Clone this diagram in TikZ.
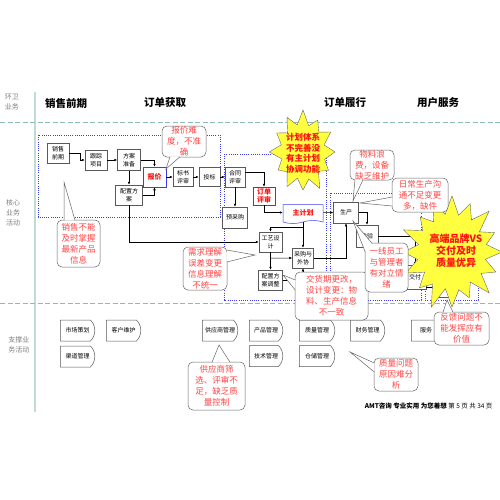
\documentclass[tikz,border=0pt]{standalone}
\usepackage{fontspec}
\newfontfamily\cjk{Noto Sans CJK SC}
\usetikzlibrary{shapes.misc,shapes.symbols,arrows.meta}

\definecolor{lanegray}{HTML}{7F7F7F}
\definecolor{laneteal}{HTML}{8CBDB5}
\definecolor{stageblue}{HTML}{3C3CF5}
\definecolor{issuered}{HTML}{FF4545}
\definecolor{keyred}{HTML}{FF1010}
\definecolor{burstyellow}{HTML}{FFFF40}

\tikzset{
  proc/.style={draw=black!65, fill=white, line width=0.5pt, align=center, inner sep=0pt,
    font=\cjk\fontsize{6}{7.5}\selectfont, minimum width=22pt, minimum height=20pt},
  keyproc/.style={proc, draw=stageblue, text=keyred, font=\cjk\bfseries\fontsize{7}{8.5}\selectfont},
  supbox/.style={rounded rectangle, rounded rectangle left arc=none,
    rounded rectangle arc length=90, draw=black!65, fill=white, line width=0.5pt,
    font=\cjk\fontsize{6}{7}\selectfont, minimum width=41pt, minimum height=21pt},
  call/.style={draw=black!60, fill=white, line width=0.5pt, rounded corners=5pt,
    align=center, inner sep=0pt, text=issuered, font=\cjk\fontsize{8.5}{11}\selectfont},
  callline/.style={draw=black!60, line width=0.5pt},
  burst/.style={draw=black!60, fill=burstyellow, line width=0.4pt},
  burstnote/.style={align=center, text=keyred, font=\cjk\bfseries\fontsize{8.5}{10.5}\selectfont},
  arr/.style={-{Latex[length=3pt,width=2.6pt]}, line width=0.5pt},
  lane/.style={dash pattern=on 5pt off 2.5pt, draw=laneteal, line width=0.8pt},
  stage/.style={dash pattern=on 0.9pt off 1.3pt, draw=stageblue, line width=0.7pt},
  head/.style={font=\cjk\bfseries\fontsize{10.5}{12}\selectfont},
  side/.style={align=center, text=lanegray, font=\cjk\fontsize{7}{10}\selectfont}
}
% pointer of a callout: base point, tip, base point
\newcommand{\calltail}[3]{%
  \fill[white] #1 -- #2 -- #3 -- cycle;
  \draw[callline] #1 -- #2 -- #3;}

\begin{document}
\begin{tikzpicture}[x=1pt, y=-1pt]
\useasboundingbox[fill=white] (0,0) rectangle (500,500);
\clip (0,0) rectangle (500,500);

% lanes and headings
\draw[draw=laneteal!55, line width=2pt] (35,92) -- (35,412);
\draw[lane] (0,122) -- (500,122);
\draw[lane] (0,303) -- (500,303);
\node[side] (sgtop) at (12,102) {环卫\\业务};
\node[side] (sgcore) at (13,213) {核心\\业务\\活动};
\node[side] (sgsup) at (19,345) {支撑业\\务活动};
\node[head] (hxq) at (66,103) {销售前期};
\node[head] (hdd) at (165,103) {订单获取};
\node[head] (hlx) at (345,103) {订单履行};
\node[head] (hfw) at (438,103) {用户服务};

% stages
\draw[stage] (38,135) rectangle (220,217);
\draw[stage] (224,154) rectangle (326,300);
\draw[stage] (330,193) rectangle (421,300);
\draw[stage] (425,232) rectangle (478,300);

% core process
\node[proc] (xq) at (58,153) {销售\\前期};
\node[proc] (gz) at (96,160) {跟踪\\项目};
\node[proc, minimum width=23pt, minimum height=21pt] (fa) at (129,160) {方案\\准备};
\node[keyproc, minimum width=23pt] (bj) at (154.5,177) {报价};
\node[proc, minimum width=20pt, minimum height=19pt] (bs) at (183,177) {标书\\评审};
\node[proc, minimum width=21pt, minimum height=19pt] (tb) at (209.5,177) {投标};
\node[proc, minimum width=20pt] (ht) at (235,177) {合同\\评审};
\node[proc, minimum width=27pt] (pz) at (129,195) {配置方\\案};
\node[proc, minimum width=25pt, minimum height=21pt] (yc) at (235,217.5) {预采购};
\node[keyproc, minimum height=18pt] (dd) at (264,196) {订单\\评审};
\node[keyproc, tape, tape bend top=none, tape bend height=3pt,
  minimum width=40pt, minimum height=19pt] (zj) at (303,212.5) {主计划};
\node[proc, minimum width=25pt, minimum height=21pt] (sc) at (346,212.5) {生产};
\node[proc, minimum width=23pt] (gy) at (270.5,242) {工艺设\\计};
\node[proc, minimum width=21pt] (cg) at (303,258) {采购与\\外协};
\node[proc, minimum width=24pt] (pt) at (270.5,280) {配置方\\案调整};
\node[proc, minimum height=22pt] (jy) at (367,236) {检验};
\node[proc, minimum width=22pt, minimum height=24pt] (jf) at (415,277) {交付};
\node[proc, minimum width=18pt] (fw) at (444,287) {服务};

\draw[arr] (xq.east) -- ++(11,0) |- (gz.west);
\draw[arr] (gz) -- (fa);
\draw[arr] (fa.east) -| (bj.north);
\draw[arr] (fa) -- (pz);
\draw[arr] (pz.east) -| (bj.south);
\draw[arr] (bj) -- (bs);
\draw[arr] (bs) -- (tb);
\draw[arr] (tb) -- (ht);
\draw[arr] (ht) -- (yc);
\draw[arr] ([yshift=5pt]ht.east) -| (dd.north);
\draw[arr] (dd.south) |- (zj.west);
\draw[arr] (zj) -- (sc);
\draw[arr] (zj) -- (cg);
\draw[arr] (zj.south) ++(0,6) -| (gy.north);
\draw[arr] (pz.south) |- (gy.west);
\draw[arr] (gy) -- (pt);
\draw[arr] (gy.south) ++(0,6) -- (cg.west);
\draw[arr] (cg.east) -| (sc.south);
\draw[arr] (pt.east) -| (cg.south);
\draw[arr] (sc.east) -| (jy.north);
\draw[arr] (jy.east) -| (jf.north);
\draw[arr] (jf.east |- fw.west) -- (fw.west);

% support activities
\node[supbox] (sch) at (77.5,330.5) {市场策划};
\node[supbox] (khwh) at (123.5,330.5) {客户维护};
\node[supbox] (qdgl) at (77.5,356.5) {渠道管理};
\node[supbox, minimum width=42pt] (gysgl) at (220,330.5) {供应商管理};
\node[supbox, minimum width=40pt] (cpgl) at (266,330.5) {产品管理};
\node[supbox, minimum width=42pt] (zlgl) at (317,330.5) {质量管理};
\node[supbox] (cwgl) at (367.5,330.5) {财务管理};
\node[supbox, minimum width=26pt] (fwgl) at (426,330.5) {服务};
\node[supbox, minimum width=40pt] (jsgl) at (266,356) {技术管理};
\node[supbox, minimum width=42pt] (ccgl) at (317,356) {仓储管理};

% bursts
\begin{scope}[shift={(303,152)}, x=32pt, y=-40pt]
  \draw[burst] (0:1) \foreach \a/\r in {15/.7, 30/.92, 45/.68, 60/1.05, 75/.7, 90/.95,
    105/.68, 120/1, 135/.7, 150/.9, 165/.68, 180/1.05, 195/.7, 210/.95, 225/.68, 240/1,
    255/.7, 270/1.05, 285/.68, 300/.92, 315/.7, 330/1, 345/.68} {-- (\a:\r)} -- cycle;
\end{scope}
\node[burstnote] (jhnote) at (303,153) {计划体系\\不完善没\\有主计划\\协调功能};

\begin{scope}[shift={(452,252)}, x=50pt, y=-55pt]
  \draw[burst] (0:1) \foreach \a/\r in {11.25/.68, 22.5/.95, 33.75/.7, 45/1.05, 56.25/.66,
    67.5/.9, 78.75/.7, 90/1, 101.25/.68, 112.5/1.08, 123.75/.7, 135/.92, 146.25/.66,
    157.5/1, 168.75/.7, 180/.97, 191.25/.68, 202.5/1.05, 213.75/.7, 225/.9, 236.25/.66,
    247.5/1, 258.75/.7, 270/1.02, 281.25/.68, 292.5/.95, 303.75/.7, 315/1.05, 326.25/.66,
    337.5/.92, 348.75/.7} {-- (\a:\r)} -- cycle;
\end{scope}
\node[burstnote, font=\cjk\bfseries\fontsize{10}{12}\selectfont] (ppnote) at (456,251)
  {高端品牌VS\\交付及时\\质量优异};

% callouts
\node[call, minimum width=44pt, minimum height=31pt] (cbj) at (184,141.5) {报价难\\度，不准\\确};
\coordinate (cbjtip) at (166,169);
\calltail{([xshift=-14pt,yshift=0.5pt]cbj.south)}{(cbjtip)}{([xshift=-4pt,yshift=0.5pt]cbj.south)}

\node[call, minimum width=43pt, minimum height=47pt] (cxs) at (78.5,243.5) {销售不能\\及时掌握\\最新产品\\信息};
\coordinate (cxstip) at (64,182);
\calltail{([xshift=-14.5pt,yshift=-0.5pt]cxs.north)}{(cxstip)}{([xshift=-3.5pt,yshift=-0.5pt]cxs.north)}

\node[call, minimum width=44pt, minimum height=43pt] (cxq) at (205,268.5) {需求理解\\误差变更\\信息理解\\不统一};
\coordinate (cxqtip) at (255,255);
\calltail{([xshift=-0.5pt,yshift=18.5pt]cxq.east)}{(cxqtip)}{([xshift=-0.5pt,yshift=6.5pt]cxq.east)}

\node[call, minimum width=73pt, minimum height=48pt] (cjh) at (331.5,296) {交货期更改，\\设计变更：物\\料、生产信息\\不一致};
\coordinate (cjhtip) at (283,275);
\calltail{([xshift=0.5pt,yshift=16pt]cjh.west)}{(cjhtip)}{([xshift=0.5pt,yshift=6pt]cjh.west)}

\node[call, minimum width=44pt, minimum height=30pt] (cwl) at (372,165) {物料浪\\费，设备\\缺乏维护};
\coordinate (cwltip) at (353,201);
\calltail{([xshift=-17pt,yshift=0.5pt]cwl.south)}{(cwltip)}{([xshift=-9pt,yshift=0.5pt]cwl.south)}

\node[call, minimum width=56pt, minimum height=34pt] (crc) at (420,195) {日常生产沟\\通不足变更\\多，缺件};
\coordinate (crctip) at (360,203);
\calltail{([xshift=0.5pt,yshift=-2pt]crc.west)}{(crctip)}{([xshift=0.5pt,yshift=-11pt]crc.west)}

\node[call, minimum width=43pt, minimum height=49pt] (cyx) at (386.5,267.5) {一线员工\\与管理者\\有对立情\\绪};
\coordinate (cyxtip) at (353,221);
\calltail{([xshift=-14.5pt,yshift=-0.5pt]cyx.north)}{(cyxtip)}{([xshift=0.5pt,yshift=15.5pt]cyx.west)}

\node[call, minimum width=55pt, minimum height=33pt] (cfk) at (461.5,328.5) {反馈问题不\\能发挥应有\\价值};
\coordinate (cfktip) at (447,300);
\calltail{([xshift=-18.5pt,yshift=-0.5pt]cfk.north)}{(cfktip)}{([xshift=-8.5pt,yshift=-0.5pt]cfk.north)}

\node[call, minimum width=57pt, minimum height=48pt] (cgy) at (216.5,386) {供应商筛\\选、评审不\\足，缺乏质\\量控制};
\coordinate (cgytip) at (219,345);
\calltail{([xshift=-4.5pt,yshift=-0.5pt]cgy.north)}{(cgytip)}{([xshift=13.5pt,yshift=-0.5pt]cgy.north)}

\node[call, minimum width=44pt, minimum height=33pt] (czl) at (396,374.5) {质量问题\\原因难分\\析};
\coordinate (czltip) at (350,352);
\calltail{([xshift=0.5pt,yshift=11.5pt]czl.west)}{(czltip)}{([xshift=0.5pt,yshift=2.5pt]czl.west)}

% footer
\node[anchor=east, font=\cjk\fontsize{6.5}{8}\selectfont] (foot) at (496,406)
  {\textbf{AMT咨询 专业实用 为您着想} 第 5 页 共 34 页};
\end{tikzpicture}
\end{document}
